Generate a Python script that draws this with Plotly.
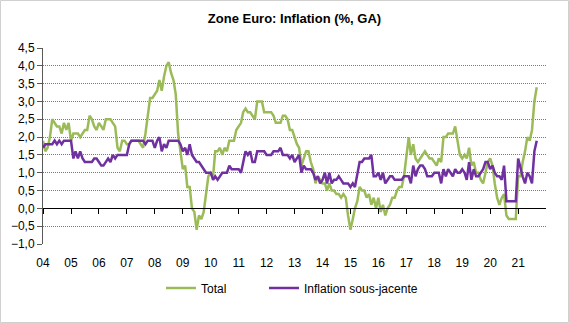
import pandas as pd
import plotly.graph_objects as go

# Euro area HICP, year-on-year % change, monthly from January 2004
total = [
    1.9, 1.6, 1.7, 2.0, 2.5, 2.4, 2.3, 2.3, 2.1, 2.4, 2.2, 2.4,   # 2004
    1.9, 2.1, 2.1, 2.1, 2.0, 2.1, 2.2, 2.2, 2.6, 2.5, 2.3, 2.2,   # 2005
    2.4, 2.3, 2.2, 2.5, 2.5, 2.5, 2.4, 2.3, 1.7, 1.6, 1.9, 1.9,   # 2006
    1.8, 1.8, 1.9, 1.9, 1.9, 1.9, 1.8, 1.7, 2.1, 2.6, 3.1, 3.1,   # 2007
    3.2, 3.3, 3.6, 3.3, 3.7, 4.0, 4.1, 3.8, 3.6, 3.2, 2.1, 1.6,   # 2008
    1.1, 1.2, 0.6, 0.6, 0.0, -0.1, -0.6, -0.2, -0.3, -0.1, 0.5, 0.9,  # 2009
    1.0, 0.9, 1.6, 1.6, 1.7, 1.5, 1.7, 1.6, 1.9, 1.9, 1.9, 2.2,   # 2010
    2.3, 2.4, 2.7, 2.8, 2.7, 2.7, 2.6, 2.5, 3.0, 3.0, 3.0, 2.7,   # 2011
    2.7, 2.7, 2.7, 2.6, 2.4, 2.4, 2.4, 2.6, 2.6, 2.5, 2.2, 2.2,   # 2012
    2.0, 1.8, 1.7, 1.2, 1.4, 1.6, 1.6, 1.3, 1.1, 0.7, 0.9, 0.8,   # 2013
    0.7, 0.7, 0.5, 0.7, 0.5, 0.5, 0.4, 0.4, 0.3, 0.4, 0.3, -0.2,  # 2014
    -0.6, -0.3, 0.0, 0.2, 0.6, 0.5, 0.5, 0.3, 0.4, 0.1, 0.3, 0.0,  # 2015
    0.3, -0.1, 0.1, -0.2, 0.0, 0.1, 0.3, 0.3, 0.5, 0.6, 0.6, 0.9,  # 2016
    1.5, 2.0, 1.5, 1.8, 1.4, 1.3, 1.4, 1.5, 1.6, 1.5, 1.4, 1.4,   # 2017
    1.3, 1.2, 1.4, 1.3, 2.0, 2.0, 2.1, 2.1, 2.1, 2.3, 1.9, 1.5,   # 2018
    1.4, 1.5, 1.4, 1.7, 1.2, 1.3, 1.0, 1.0, 0.8, 0.7, 1.0, 1.3,   # 2019
    1.4, 1.2, 0.7, 0.3, 0.1, 0.3, 0.4, -0.2, -0.3, -0.3, -0.3, -0.3,  # 2020
    0.9, 0.9, 1.3, 1.6, 2.0, 1.9, 2.2, 3.0, 3.4,                  # 2021
]

# Core inflation (excluding energy, food, alcohol and tobacco)
core = [
    1.7, 1.8, 1.8, 1.8, 1.8, 1.9, 1.8, 1.9, 1.8, 1.9, 1.9, 1.9,   # 2004
    1.9, 1.4, 1.6, 1.4, 1.6, 1.4, 1.3, 1.3, 1.3, 1.3, 1.4, 1.4,   # 2005
    1.3, 1.2, 1.2, 1.3, 1.4, 1.3, 1.5, 1.4, 1.5, 1.5, 1.5, 1.5,   # 2006
    1.5, 1.8, 1.9, 1.9, 1.9, 1.9, 1.9, 1.9, 1.8, 1.9, 1.9, 1.9,   # 2007
    1.7, 1.9, 2.0, 1.6, 1.8, 1.7, 1.9, 1.9, 1.9, 1.9, 1.9, 1.8,   # 2008
    1.6, 1.7, 1.5, 1.8, 1.5, 1.4, 1.3, 1.3, 1.2, 1.1, 1.0, 1.0,   # 2009
    1.0, 0.8, 0.9, 0.8, 0.9, 1.0, 1.0, 1.0, 1.2, 1.1, 1.1, 1.1,   # 2010
    1.1, 1.0, 1.3, 1.6, 1.5, 1.6, 1.3, 1.3, 1.6, 1.6, 1.6, 1.6,   # 2011
    1.5, 1.5, 1.5, 1.6, 1.6, 1.6, 1.7, 1.5, 1.5, 1.5, 1.4, 1.5,   # 2012
    1.3, 1.4, 1.5, 1.0, 1.2, 1.1, 1.1, 1.1, 1.0, 0.8, 0.9, 0.7,   # 2013
    0.8, 1.0, 0.7, 1.0, 0.7, 0.8, 0.8, 0.9, 0.8, 0.7, 0.7, 0.7,   # 2014
    0.6, 0.7, 0.6, 1.0, 1.3, 1.3, 1.4, 1.4, 1.4, 1.5, 0.9, 0.9,   # 2015
    1.0, 0.8, 1.0, 0.7, 0.8, 0.9, 0.9, 0.8, 0.8, 0.8, 0.8, 0.9,   # 2016
    0.9, 0.9, 0.7, 1.2, 0.9, 1.1, 1.2, 1.2, 1.1, 0.9, 0.9, 0.9,   # 2017
    1.0, 1.0, 1.0, 0.7, 1.1, 0.9, 1.1, 1.0, 0.9, 1.1, 1.0, 1.0,   # 2018
    1.1, 1.0, 0.8, 1.3, 0.8, 1.1, 0.9, 0.9, 1.0, 1.1, 1.3, 1.3,   # 2019
    1.1, 1.2, 1.0, 0.9, 0.9, 0.8, 1.2, 0.2, 0.2, 0.2, 0.2, 0.2,   # 2020
    1.4, 1.1, 0.9, 0.7, 1.0, 0.9, 0.7, 1.6, 1.9,                  # 2021
]

months = pd.date_range("2004-01-01", periods=len(total), freq="MS")

series_names = ["Total", "Inflation sous-jacente"]
series_colors = ["#9BBB59", "#7030A0"]
legend_ids = ["legend", "legend2"]

FONT = "Liberation Sans, Arial, sans-serif"

fig = go.Figure()
for name, values, color, lg in zip(series_names, [total, core], series_colors, legend_ids):
    fig.add_trace(go.Scatter(
        x=months, y=values, name=name, mode="lines",
        line=dict(color=color, width=2.5), legend=lg,
    ))

# invisible trace on the overlaid axis that carries the zero-line ticks
fig.add_trace(go.Scatter(x=months, y=total, xaxis="x2", mode="lines",
                         line=dict(width=0), showlegend=False, hoverinfo="skip"))

W, H = 569, 323
ML, MR, MT, MB = 43, 23, 48, 79
pw, ph = W - ML - MR, H - MT - MB

x_range = ["2004-01-01", "2021-12-31"]
y_min, y_max = -1.0, 4.5

legend_y = -(288 - (H - MB)) / ph
legend_font = dict(family=FONT, size=12, color="#000000")

fig.update_layout(
    width=W, height=H,
    margin=dict(l=ML, r=MR, t=MT, b=MB),
    paper_bgcolor="white", plot_bgcolor="white",
    separators=", ",
    font=dict(family=FONT, size=12, color="#000000"),
    title=dict(text="<b>Zone Euro: Inflation (%, GA)</b>",
               x=0.5, xref="paper", xanchor="center",
               y=1 - 18 / H, yref="container", yanchor="middle",
               font=dict(family=FONT, size=13, color="#000000")),
    xaxis=dict(type="date", range=x_range, tick0="2004-01-01", dtick="M12",
               tickformat="%y", showgrid=False, zeroline=False, showline=False,
               ticks="outside", ticklen=8, tickcolor="rgba(0,0,0,0)",
               tickfont=dict(family=FONT, size=12, color="#000000")),
    xaxis2=dict(type="date", overlaying="x", matches="x", anchor="free",
                position=(0 - y_min) / (y_max - y_min), side="bottom",
                tick0="2004-01-01", dtick="M12", showticklabels=False,
                showgrid=False, zeroline=False, showline=True,
                linecolor="#000000", linewidth=1,
                ticks="outside", ticklen=5, tickcolor="#000000", tickwidth=1),
    yaxis=dict(range=[y_min, y_max], dtick=0.5, tick0=0, tickformat=".1f",
               showgrid=True, gridcolor="#7a7a7a", gridwidth=1, griddash="1px,1px",
               zeroline=False, showline=True, linecolor="#595959", linewidth=1,
               ticks="outside", ticklen=5, tickcolor="#595959",
               tickfont=dict(family=FONT, size=12, color="#000000")),
    legend=dict(orientation="h", x=(161 - ML) / pw, xanchor="left",
                y=legend_y, yanchor="middle", font=legend_font,
                bgcolor="rgba(0,0,0,0)"),
    legend2=dict(orientation="h", x=(264 - ML) / pw, xanchor="left",
                 y=legend_y, yanchor="middle", font=legend_font,
                 bgcolor="rgba(0,0,0,0)"),
    showlegend=True,
)

# light frame around the whole chart area
fig.add_shape(type="rect", xref="paper", yref="paper",
              x0=(0.5 - ML) / pw, x1=(W - 0.5 - ML) / pw,
              y0=-(MB - 0.5) / ph, y1=1 + (MT - 0.5) / ph,
              line=dict(color="#d0d0d0", width=1), layer="below")

fig.write_html("out.html")
